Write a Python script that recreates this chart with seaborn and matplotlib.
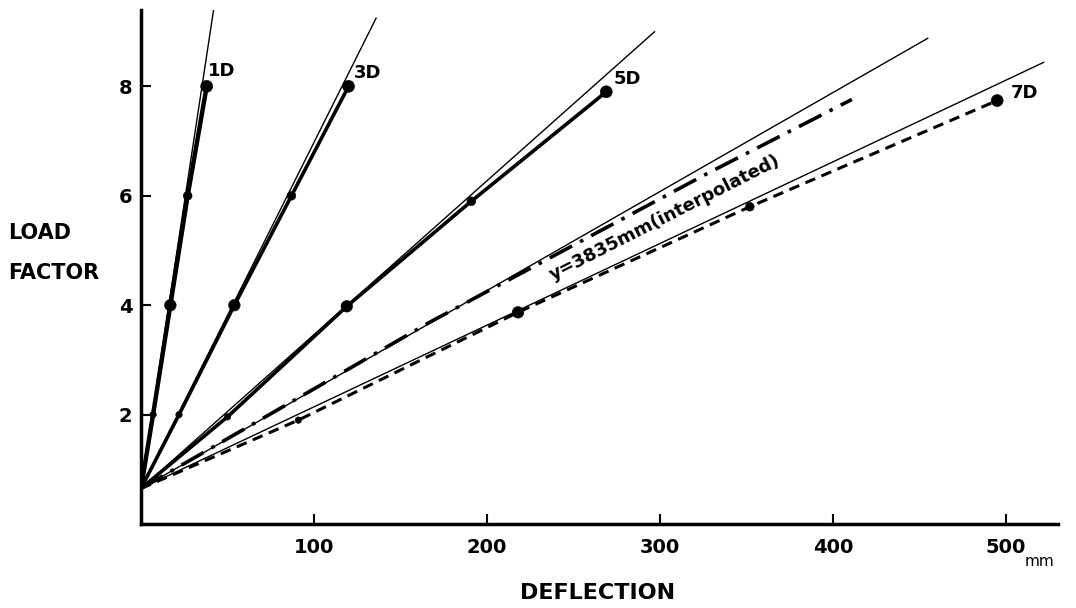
import numpy as np
import pandas as pd
import matplotlib
matplotlib.use("Agg")
import matplotlib.pyplot as plt
import seaborn as sns

# values (deflection in mm, load factor)
origin_load = 0.65

loads = [2, 4, 6, 8]
defl_1d = [7, 17, 27, 38]
defl_3d = [22, 54, 87, 120]
defl_5d = [50, 119, 191, 269]
load_5d = [1.96, 3.98, 5.9, 7.9]
defl_7d = [91, 218, 352, 495]
load_7d = [1.9, 3.87, 5.8, 7.74]

# interpolated curve y = 3835 mm
interp_defl = [0, 167, 327, 411]
interp_load = [0.65, 3.69, 6.4, 7.76]

# thin straight reference lines (end points)
ref_names = ["1D", "3D", "5D", "interp", "7D"]
ref_end_defl = [42, 136, 297, 455, 522]
ref_end_load = [9.4, 9.25, 9.0, 8.88, 8.44]

curve_labels = ["1D", "3D", "5D", "7D"]
label_defl = [38.5, 123, 273, 503]
label_load = [8.28, 8.24, 8.13, 7.87]

x_ticks = [100, 200, 300, 400, 500]
y_ticks = [2, 4, 6, 8]

sns.set_style("ticks")
plt.rcParams["font.family"] = ["DejaVu Sans"]
plt.rcParams["text.color"] = "black"
plt.rcParams["xtick.color"] = "black"
plt.rcParams["ytick.color"] = "black"
plt.rcParams["xtick.labelcolor"] = "black"
plt.rcParams["ytick.labelcolor"] = "black"

fig = plt.figure(figsize=(10.76, 6.08), dpi=100)
ax = fig.add_axes([0.131, 0.138, 0.852, 0.846])

# thin reference lines
for d, l in zip(ref_end_defl, ref_end_load):
    sns.lineplot(x=[0, d], y=[origin_load, l], ax=ax, color="black", lw=1.0, sort=False)

# measured curves
curves = [
    ([0] + defl_1d, [origin_load] + loads, 3.2, "-"),
    ([0] + defl_3d, [origin_load] + loads, 2.6, "-"),
    ([0] + defl_5d, [origin_load] + load_5d, 2.6, "-"),
    ([0] + defl_7d, [origin_load] + load_7d, 2.2, (0, (3.5, 2.2))),
]
for xs, ys, lw, ls in curves:
    sns.lineplot(x=xs, y=ys, ax=ax, color="black", lw=lw, linestyle=ls, sort=False)

sns.lineplot(x=interp_defl, y=interp_load, ax=ax, color="black", lw=2.6,
             linestyle=(0, (7, 2.5, 1, 2.5)), sort=False)

# data points
pts = pd.DataFrame({
    "defl": defl_1d + defl_3d + defl_5d + defl_7d,
    "load": loads + loads + load_5d + load_7d,
    "step": loads * 4,
})
sns.scatterplot(data=pts, x="defl", y="load", size="step",
                sizes={2: 22, 4: 70, 6: 40, 8: 75}, color="black",
                edgecolor="black", legend=False, ax=ax, zorder=5)

for name, d, l in zip(curve_labels, label_defl, label_load):
    ax.text(d, l, name, fontsize=13, fontweight="bold", ha="left", va="center")

ax.text(303, 5.6, "y=3835mm(interpolated)", fontsize=13, fontweight="bold",
        rotation=27, ha="center", va="center")

ax.set_xlim(0, 530)
ax.set_ylim(0, 9.4)
ax.set_xticks(x_ticks)
ax.set_yticks(y_ticks)
ax.set_xticklabels([str(t) for t in x_ticks], fontsize=14, fontweight="bold")
ax.set_yticklabels([str(t) for t in y_ticks], fontsize=14, fontweight="bold")
ax.tick_params(axis="x", direction="in", length=7, width=1.5, pad=10)
ax.tick_params(axis="y", direction="in", length=7, width=1.5, pad=6)
ax.text(511, -0.68, "mm", fontsize=11, ha="left", va="center")

sns.despine(ax=ax)
for s in ["left", "bottom"]:
    ax.spines[s].set_linewidth(2.5)
    ax.spines[s].set_color("black")
ax.set_xlabel("")
ax.set_ylabel("")

fig.text(0.008, 0.584, "LOAD\n\nFACTOR", fontsize=15, fontweight="bold",
         ha="left", va="center", linespacing=1.0)
fig.text(0.555, 0.025, "DEFLECTION", fontsize=16, fontweight="bold",
         ha="center", va="center")

fig.savefig("out.png", dpi=100)
